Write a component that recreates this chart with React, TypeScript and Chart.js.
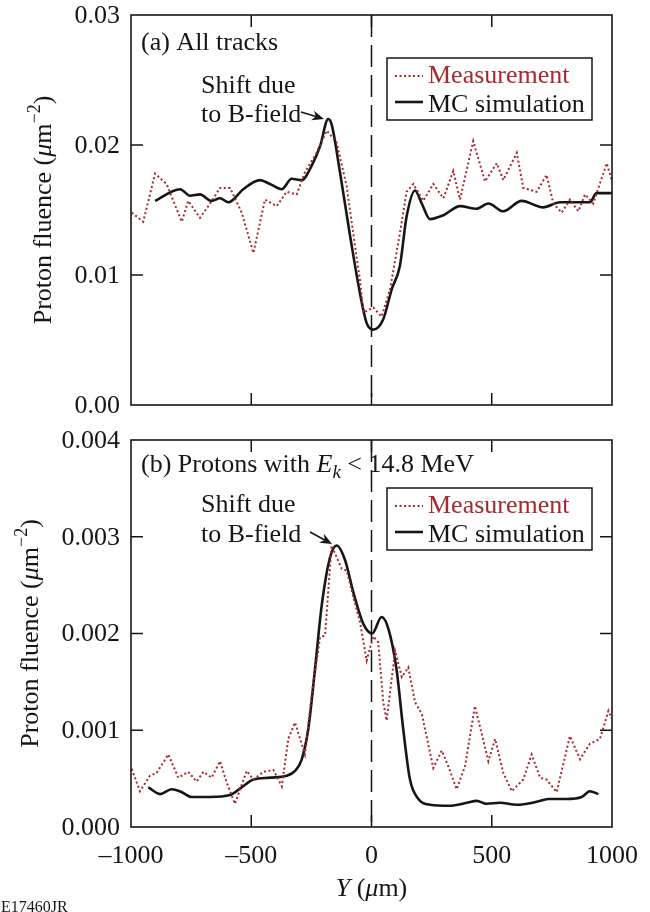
import React, { useEffect, useRef } from 'react';
import { Chart, registerables } from 'chart.js';

Chart.register(...registerables);

const SERIF = '"Liberation Serif", "Times New Roman", Times, serif';
const INK = '#161616';
const RED = '#a8282f';

// ---- axes ----
const xTickValues = [-1000, -500, 0, 500, 1000];
const xTickLabels = ['\u20131000', '\u2013500', '0', '500', '1000'];
const yTickValuesA = [0, 0.01, 0.02, 0.03];
const yTickLabelsA = ['0.00', '0.01', '0.02', '0.03'];
const yTickValuesB = [0, 0.001, 0.002, 0.003, 0.004];
const yTickLabelsB = ['0.000', '0.001', '0.002', '0.003', '0.004'];

const seriesNames = ['Measurement', 'MC simulation'];

// ---- (a) All tracks ----
const measAX = [-997, -949, -900, -852, -789, -762, -713, -671, -630, -588, -540, -491, -443, -394, -353, -311, -277, -228, -186, -145, -103, -76, -48, -34, 7, 42, 77, 118, 146, 174, 215, 257, 299, 340, 368, 423, 472, 521, 548, 604, 631, 687, 728, 756, 791, 825, 860, 888, 922, 978, 999];
const measAY = [0.0148, 0.0141, 0.0178, 0.0170, 0.0141, 0.0157, 0.0144, 0.0155, 0.0167, 0.0167, 0.0148, 0.0117, 0.0158, 0.0153, 0.0164, 0.0162, 0.0179, 0.0194, 0.0211, 0.0202, 0.0168, 0.0132, 0.0096, 0.0071, 0.0075, 0.0068, 0.0089, 0.0132, 0.0164, 0.0170, 0.0157, 0.0170, 0.0159, 0.0180, 0.0158, 0.0203, 0.0172, 0.0186, 0.0173, 0.0194, 0.0167, 0.0164, 0.0177, 0.0155, 0.0148, 0.0158, 0.0149, 0.0162, 0.0155, 0.0186, 0.0173];
const simAX = [-900, -796, -755, -713, -665, -630, -595, -533, -464, -422, -373, -332, -290, -249, -214, -180, -166, -131, -89, -48, -20, 7, 49, 84, 118, 146, 181, 209, 243, 299, 368, 437, 486, 548, 624, 714, 784, 908, 936, 999];
const simAY = [0.0157, 0.0166, 0.0161, 0.0162, 0.0157, 0.0159, 0.0156, 0.0166, 0.0173, 0.0170, 0.0166, 0.0174, 0.0173, 0.0184, 0.0199, 0.0220, 0.0216, 0.0179, 0.0130, 0.0086, 0.0063, 0.0058, 0.0066, 0.0089, 0.0107, 0.0145, 0.0165, 0.0155, 0.0143, 0.0146, 0.0153, 0.0151, 0.0155, 0.0149, 0.0157, 0.0152, 0.0156, 0.0156, 0.0163, 0.0163];

// ---- (b) Protons with Ek < 14.8 MeV ----
const measBX = [-997, -963, -921, -893, -845, -803, -762, -727, -699, -665, -630, -602, -568, -519, -491, -450, -408, -373, -346, -318, -277, -249, -214, -193, -166, -124, -103, -76, -48, -20, 7, 28, 49, 63, 98, 126, 153, 181, 209, 257, 292, 319, 354, 389, 430, 486, 514, 548, 583, 631, 666, 701, 728, 770, 825, 867, 908, 950, 985, 999];
const measBY = [0.00060, 0.00037, 0.00053, 0.00056, 0.00075, 0.00051, 0.00057, 0.00047, 0.00057, 0.00051, 0.00068, 0.00046, 0.00024, 0.00058, 0.00049, 0.00057, 0.00059, 0.00042, 0.00091, 0.00108, 0.00075, 0.00136, 0.00196, 0.00198, 0.00291, 0.00267, 0.00265, 0.00238, 0.00212, 0.00172, 0.00197, 0.00191, 0.00129, 0.00110, 0.00182, 0.00155, 0.00165, 0.00129, 0.00117, 0.00061, 0.00079, 0.00063, 0.00039, 0.00063, 0.00125, 0.00068, 0.00091, 0.00056, 0.00037, 0.00049, 0.00075, 0.00051, 0.00049, 0.00036, 0.00094, 0.00070, 0.00086, 0.00091, 0.00120, 0.00112];
const simBX = [-928, -879, -831, -789, -748, -671, -588, -540, -491, -422, -353, -318, -290, -263, -235, -207, -173, -145, -110, -76, -34, 3, 42, 70, 104, 132, 160, 195, 243, 326, 396, 437, 479, 534, 604, 687, 735, 811, 874, 908, 943];
const simBY = [0.00041, 0.00034, 0.00039, 0.00036, 0.00031, 0.00031, 0.00033, 0.00041, 0.00049, 0.00051, 0.00053, 0.00058, 0.00070, 0.00101, 0.00163, 0.00229, 0.00278, 0.00291, 0.00276, 0.00243, 0.00210, 0.00200, 0.00217, 0.00205, 0.00163, 0.00101, 0.00049, 0.00029, 0.00023, 0.00022, 0.00025, 0.00027, 0.00024, 0.00025, 0.00023, 0.00026, 0.00029, 0.00029, 0.00031, 0.00037, 0.00034];

type Seg = { t: string; it?: boolean; size?: number; dy?: number; color?: string };

function segFont(s: Seg, base: number) {
  return `${s.it ? 'italic ' : ''}${s.size || base}px ${SERIF}`;
}
function drawRich(ctx: CanvasRenderingContext2D, segs: Seg[], x: number, y: number, align: 'left' | 'center', base: number, color: string) {
  let w = 0;
  for (const s of segs) { ctx.font = segFont(s, base); w += ctx.measureText(s.t).width; }
  let cx = align === 'center' ? x - w / 2 : x;
  ctx.textAlign = 'left';
  ctx.textBaseline = 'alphabetic';
  for (const s of segs) {
    ctx.font = segFont(s, base);
    ctx.fillStyle = s.color || color;
    ctx.fillText(s.t, cx, y + (s.dy || 0));
    cx += ctx.measureText(s.t).width;
  }
}
function arrow(ctx: CanvasRenderingContext2D, x1: number, y1: number, x2: number, y2: number) {
  const ang = Math.atan2(y2 - y1, x2 - x1);
  const hl = 12, hw = 5;
  const c = Math.cos(ang), s = Math.sin(ang);
  ctx.beginPath();
  ctx.moveTo(x1, y1);
  ctx.lineTo(x2 - hl * 0.7 * c, y2 - hl * 0.7 * s);
  ctx.lineWidth = 1.5;
  ctx.strokeStyle = INK;
  ctx.stroke();
  ctx.beginPath();
  ctx.moveTo(x2, y2);
  ctx.lineTo(x2 - hl * c + hw * s, y2 - hl * s - hw * c);
  ctx.lineTo(x2 - hl * 0.7 * c, y2 - hl * 0.7 * s);
  ctx.lineTo(x2 - hl * c - hw * s, y2 - hl * s + hw * c);
  ctx.closePath();
  ctx.fillStyle = INK;
  ctx.fill();
}

type PanelCfg = {
  key: string;
  height: number;
  top: number;
  bottomPad: number;
  measX: number[]; measY: number[]; simX: number[]; simY: number[];
  yMax: number; yTicks: number[]; yLabels: string[];
  showX: boolean;
  label: Seg[]; labelDy: number;
  shiftDy: [number, number];
  arrow: [number, number, number, number];
  legendDy: number;
  yTitleX: number;
};

const panelA: PanelCfg = {
  key: 'a', height: 425, top: 0, bottomPad: 20,
  measX: measAX, measY: measAY, simX: simAX, simY: simAY,
  yMax: 0.03, yTicks: yTickValuesA, yLabels: yTickLabelsA,
  showX: false,
  label: [{ t: '(a) All tracks' }], labelDy: 35,
  shiftDy: [78, 107],
  arrow: [170, 97, 193, 104],
  legendDy: 43,
  yTitleX: 42,
};
const panelB: PanelCfg = {
  key: 'b', height: 487, top: 425, bottomPad: 85,
  measX: measBX, measY: measBY, simX: simBX, simY: simBY,
  yMax: 0.004, yTicks: yTickValuesB, yLabels: yTickLabelsB,
  showX: true,
  label: [{ t: '(b) Protons with ' }, { t: 'E', it: true }, { t: 'k', it: true, size: 19, dy: 6 }, { t: ' < 14.8 MeV' }], labelDy: 32,
  shiftDy: [72, 102],
  arrow: [179, 92, 201, 104],
  legendDy: 48,
  yTitleX: 29,
};

function buildChart(canvas: HTMLCanvasElement, p: PanelCfg) {
  const plugin = {
    id: 'decor_' + p.key,
    beforeDatasetsDraw(chart: any) {
      const { ctx, chartArea: a, scales } = chart;
      const xs = scales.x, ys = scales.y;
      ctx.save();
      ctx.strokeStyle = INK;
      ctx.lineWidth = 1.5;
      const TL = 12;
      ctx.beginPath();
      for (const v of xTickValues) {
        const px = xs.getPixelForValue(v);
        if (px <= a.left + 1 || px >= a.right - 1) continue;
        ctx.moveTo(px, a.bottom); ctx.lineTo(px, a.bottom - TL);
        ctx.moveTo(px, a.top); ctx.lineTo(px, a.top + TL);
      }
      for (const v of p.yTicks) {
        const py = ys.getPixelForValue(v);
        if (py <= a.top + 1 || py >= a.bottom - 1) continue;
        ctx.moveTo(a.left, py); ctx.lineTo(a.left + TL, py);
        ctx.moveTo(a.right, py); ctx.lineTo(a.right - TL, py);
      }
      ctx.stroke();
      const x0 = xs.getPixelForValue(0);
      ctx.setLineDash([22, 8]);
      ctx.beginPath();
      ctx.moveTo(x0, a.top); ctx.lineTo(x0, a.bottom);
      ctx.stroke();
      ctx.restore();
    },
    afterDraw(chart: any) {
      const { ctx, chartArea: a, scales } = chart;
      const xs = scales.x, ys = scales.y;
      ctx.save();
      ctx.strokeStyle = INK;
      ctx.lineWidth = 1.6;
      ctx.strokeRect(a.left, a.top, a.right - a.left, a.bottom - a.top);
      // tick labels
      ctx.font = `26px ${SERIF}`;
      ctx.fillStyle = INK;
      ctx.textAlign = 'right';
      ctx.textBaseline = 'middle';
      p.yTicks.forEach((v, i) => {
        ctx.fillText(p.yLabels[i], a.left - 11, ys.getPixelForValue(v) + 1);
      });
      if (p.showX) {
        ctx.textAlign = 'center';
        xTickValues.forEach((v, i) => {
          ctx.fillText(xTickLabels[i], xs.getPixelForValue(v), a.bottom + 29);
        });
      }
      // panel label
      drawRich(ctx, p.label, a.left + 10, a.top + p.labelDy, 'left', 26, INK);
      // annotation
      drawRich(ctx, [{ t: 'Shift due' }], a.left + 70, a.top + p.shiftDy[0], 'left', 26, INK);
      drawRich(ctx, [{ t: 'to B-field' }], a.left + 70, a.top + p.shiftDy[1], 'left', 26, INK);
      arrow(ctx, a.left + p.arrow[0], a.top + p.arrow[1], a.left + p.arrow[2], a.top + p.arrow[3]);
      // legend
      const bw = 205, bh = 62;
      const bx = a.right - 225, by = a.top + p.legendDy;
      ctx.fillStyle = '#fff';
      ctx.fillRect(bx, by, bw, bh);
      ctx.lineWidth = 1.5;
      ctx.strokeStyle = INK;
      ctx.strokeRect(bx, by, bw, bh);
      ctx.beginPath();
      ctx.setLineDash([2, 2.5]);
      ctx.strokeStyle = RED;
      ctx.lineWidth = 2;
      ctx.moveTo(bx + 8, by + 18); ctx.lineTo(bx + 36, by + 18);
      ctx.stroke();
      ctx.setLineDash([]);
      ctx.beginPath();
      ctx.strokeStyle = INK;
      ctx.lineWidth = 2.6;
      ctx.moveTo(bx + 8, by + 44); ctx.lineTo(bx + 36, by + 44);
      ctx.stroke();
      drawRich(ctx, [{ t: seriesNames[0] }], bx + 41, by + 25, 'left', 26, RED);
      drawRich(ctx, [{ t: seriesNames[1] }], bx + 41, by + 54, 'left', 26, INK);
      // y title
      ctx.save();
      ctx.translate(p.yTitleX, (a.top + a.bottom) / 2);
      ctx.rotate(-Math.PI / 2);
      drawRich(ctx, [
        { t: 'Proton fluence (' },
        { t: '\u03bc', it: true },
        { t: 'm' },
        { t: '\u2212', size: 18, dy: -11 },
        { t: '2', size: 18, dy: -11 },
        { t: ')' },
      ], 0, 9, 'center', 26, INK);
      ctx.restore();
      if (p.showX) {
        drawRich(ctx, [{ t: 'Y', it: true }, { t: ' (' }, { t: '\u03bc', it: true }, { t: 'm)' }], xs.getPixelForValue(0), a.bottom + 69, 'center', 26, INK);
        drawRich(ctx, [{ t: 'E17460JR' }], 1, p.height - 0.5, 'left', 16, INK);
      }
      ctx.restore();
    },
  };

  const mk = (xv: number[], yv: number[]) => xv.map((x, i) => ({ x, y: yv[i] }));

  return new Chart(canvas, {
    type: 'line',
    data: {
      datasets: [
        {
          label: seriesNames[0],
          data: mk(p.measX, p.measY),
          borderColor: RED,
          borderWidth: 2,
          borderDash: [2, 2.5],
          pointRadius: 0,
          tension: 0,
          fill: false,
        },
        {
          label: seriesNames[1],
          data: mk(p.simX, p.simY),
          borderColor: INK,
          borderWidth: 2.6,
          pointRadius: 0,
          cubicInterpolationMode: 'monotone',
          fill: false,
        },
      ],
    },
    options: {
      animation: false,
      responsive: false,
      devicePixelRatio: 1,
      layout: { padding: { top: 15, right: 38, bottom: 0, left: 0 } },
      plugins: { legend: { display: false }, tooltip: { enabled: false } },
      scales: {
        x: {
          type: 'linear',
          min: -1000,
          max: 1000,
          grid: { display: false, drawTicks: false },
          border: { display: false },
          afterBuildTicks: (s: any) => { s.ticks = xTickValues.map((v) => ({ value: v })); },
          afterFit: (s: any) => { s.height = p.bottomPad; },
          ticks: { display: false },
        },
        y: {
          type: 'linear',
          min: 0,
          max: p.yMax,
          grid: { display: false, drawTicks: false },
          border: { display: false },
          afterBuildTicks: (s: any) => { s.ticks = p.yTicks.map((v) => ({ value: v })); },
          afterFit: (s: any) => { s.width = 131; },
          ticks: { display: false },
        },
      },
    },
    plugins: [plugin],
  } as any);
}

function Panel({ cfg }: { cfg: PanelCfg }) {
  const ref = useRef<HTMLCanvasElement>(null);
  useEffect(() => {
    const chart = buildChart(ref.current!, cfg);
    return () => chart.destroy();
  }, []);
  return (
    <canvas
      ref={ref}
      width={650}
      height={cfg.height}
      style={{ position: 'absolute', left: 0, top: cfg.top, width: 650, height: cfg.height }}
    />
  );
}

export default function App() {
  return (
    <div style={{ position: 'absolute', left: 0, top: 0, width: 650, height: 912, background: '#fff' }}>
      <Panel cfg={panelA} />
      <Panel cfg={panelB} />
    </div>
  );
}
